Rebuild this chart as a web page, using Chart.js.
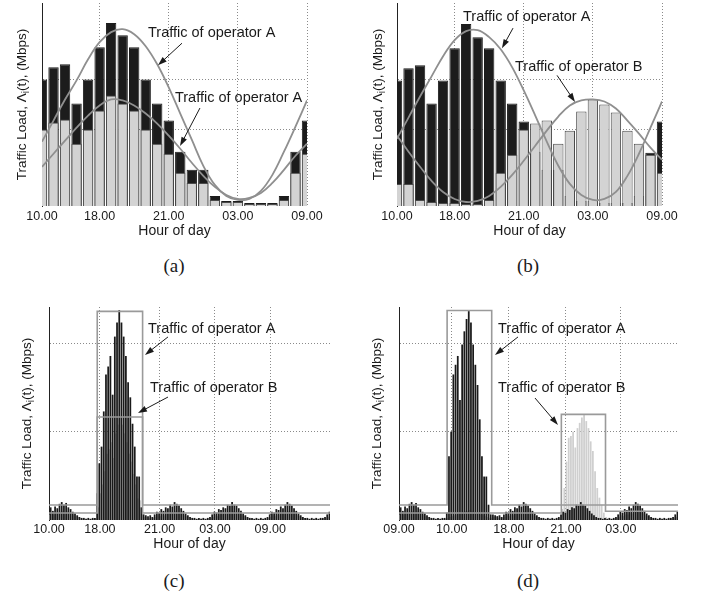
<!DOCTYPE html>
<html>
<head>
<meta charset="utf-8">
<script src="https://cdn.jsdelivr.net/npm/chart.js@4.4.1/dist/chart.umd.min.js"></script>
<style>
  html, body { margin: 0; padding: 0; background: #fff; }
  #fig { position: relative; width: 701px; height: 600px; }
  canvas { position: absolute; }
  .cap {
    position: absolute; width: 60px; text-align: center;
    font: 19px "Liberation Serif", "Times New Roman", serif;
    line-height: 22px; color: #1a1a1a;
  }
</style>
</head>
<body>
<div id="fig">
  <canvas id="pa" width="340" height="250" style="left:0;top:0"></canvas>
  <canvas id="pb" width="340" height="250" style="left:350px;top:0"></canvas>
  <canvas id="pc" width="340" height="260" style="left:0;top:300px"></canvas>
  <canvas id="pd" width="340" height="260" style="left:350px;top:300px"></canvas>
  <div class="cap" style="left:144px;top:255px">(a)</div>
  <div class="cap" style="left:498px;top:255px">(b)</div>
  <div class="cap" style="left:144px;top:570px">(c)</div>
  <div class="cap" style="left:498px;top:570px">(d)</div>
</div>
<script>
// hourly load, panels (a) and (b): 24 slots starting at 10.00
const aLoadA = [126, 138, 141, 102, 126, 158, 182, 170, 158, 126, 102, 85, 54, 36, 36, 10, 5, 5, 3, 3, 3, 10, 54, 85];
const aLoadB = [76, 83, 86, 62, 76, 95, 110, 102, 95, 76, 62, 52, 33, 23, 23, 6, 4, 4, 2, 2, 2, 6, 33, 52];
const aCurveHi = [64, 85, 106, 125, 146, 163, 173, 176, 171, 159, 141, 118, 92, 66, 40, 21, 10, 6, 7, 15, 31, 54, 79, 105];
const aCurveLo = [39, 52, 65, 78, 90, 100, 106, 105, 100, 92, 82, 70, 57, 43, 30, 19, 11, 7, 8, 13, 23, 36, 50, 62];

const bLoadA = [125, 137, 140, 102, 125, 157, 181, 168, 157, 125, 102, 84, 54, 36, 36, 10, 5, 5, 3, 3, 3, 10, 53, 84];
const bLoadB = [22, 22, 6, 4, 3, 3, 2, 2, 6, 33, 51, 76, 82, 85, 62, 75, 94, 106, 101, 93, 75, 62, 51, 33];
const bCurveA = [67, 88, 109, 129, 149, 165, 174, 175, 168, 156, 138, 115, 90, 64, 40, 22, 11, 6, 7, 14, 30, 52, 78, 104];
const bCurveB = [70, 54, 39, 25, 14, 7, 4, 5, 10, 19, 31, 45, 60, 75, 89, 100, 105, 106, 104, 97, 85, 72, 58, 46];

const hourTicksAB = [0, 5, 11, 17, 23];
const hourLabelsAB = ['10.00', '18.00', '21.00', '03.00', '09.00'];
const loadGridAB = [76, 126];

// fine-grained load, panels (c) and (d): 128 slots
const cLoadA = [
  12, 14, 10, 15, 13, 18, 20, 17, 19, 14, 12, 9, 7, 5, 3, 2, 2, 1, 2, 1, 2, 2,
  30, 64, 83, 123, 165, 174, 186, 142, 208, 224, 238, 224, 208, 186, 156, 139, 109, 83, 49, 49, 14,
  6, 5, 4, 5, 3, 6, 9, 8, 12, 10, 14, 13, 17, 15, 20, 18, 16, 13, 10, 7, 5, 3, 2, 2, 1, 2, 1, 2, 1, 2, 3,
  6, 9, 8, 12, 11, 14, 13, 17, 16, 20, 17, 16, 13, 10, 7, 5, 3, 2, 2, 1, 2, 1, 2, 1, 2, 3,
  6, 9, 8, 12, 11, 15, 13, 17, 20, 18, 16, 13, 10, 7, 5, 3, 2, 2, 1, 2, 1, 2, 1, 2, 2, 3, 6, 9
];
const cLoadB = [
  6, 7, 6, 8, 7, 9, 10, 9, 10, 8, 7, 5, 4, 3, 2, 1, 1, 1, 1, 1, 1, 1,
  14, 30, 40, 55, 75, 80, 88, 70, 98, 108, 116, 108, 98, 88, 75, 66, 52, 40, 24, 22, 6,
  3, 3, 2, 3, 2, 3, 5, 4, 6, 5, 7, 7, 9, 8, 10, 9, 8, 7, 5, 4, 3, 2, 1, 1, 1, 1, 1, 1, 1, 1, 2,
  3, 5, 4, 6, 6, 7, 7, 9, 8, 10, 9, 8, 7, 5, 4, 3, 2, 1, 1, 1, 1, 1, 1, 1, 1, 2,
  3, 5, 4, 6, 6, 8, 7, 9, 10, 9, 8, 7, 5, 4, 3, 2, 1, 1, 1, 1, 1, 1, 1, 1, 1, 2, 3, 5
];
const dLoadA = [
  12, 14, 10, 15, 13, 18, 20, 17, 19, 14, 12, 9, 7, 5, 3, 2, 2, 1, 2, 1, 2, 2,
  8, 72, 100, 165, 176, 186, 136, 199, 214, 228, 237, 224, 199, 176, 153, 114, 72, 49, 49, 17, 6,
  6, 5, 4, 5, 3, 6, 9, 8, 12, 10, 14, 13, 17, 15, 20, 18, 16, 13, 10, 7, 5, 3, 2, 2, 1, 2, 1, 2, 1, 2, 3,
  6, 9, 8, 12, 11, 14, 13, 17, 16, 20, 17, 16, 13, 10, 7, 5, 3, 2, 2, 1, 2, 1, 2, 1, 2, 3,
  6, 9, 8, 12, 11, 15, 13, 17, 20, 18, 16, 13, 10, 7, 5, 3, 2, 2, 1, 2, 1, 2, 1, 2, 2, 3, 6, 9
];
const dLoadB = [
  6, 7, 6, 8, 7, 9, 10, 9, 10, 8, 7, 5, 4, 3, 2, 1, 1, 1, 1, 1, 1, 1,
  2, 3, 4, 5, 6, 7, 8, 9, 10, 10, 11, 10, 9, 8, 7, 6, 5, 4, 3, 2, 2,
  3, 3, 2, 3, 2, 3, 5, 4, 6, 5, 7, 7, 9, 8, 10, 9, 8, 7, 5, 4, 3, 2, 1, 1, 1, 1, 1, 1, 1, 1, 2,
  12, 36, 66, 93, 95, 100, 82, 104, 110, 116, 119, 112, 104, 89, 78, 55, 36, 25, 17, 8, 3, 1, 1, 1, 1, 2,
  3, 5, 4, 6, 6, 8, 7, 9, 10, 9, 8, 7, 5, 4, 3, 2, 1, 1, 1, 1, 1, 1, 1, 1, 1, 2, 3, 5
];

// allocation envelopes (slot, load) corners
const cEnvAx = [0, 21.8, 21.8, 42.3, 42.3, 127];
const cEnvAy = [17, 17, 237, 237, 17, 17];
const cEnvBx = [0, 21.8, 21.8, 42.3, 42.3, 127];
const cEnvBy = [8, 8, 117, 117, 8, 8];
const dEnvAx = [0, 21.9, 21.9, 42.2, 42.2, 127];
const dEnvAy = [17, 17, 238, 238, 17, 17];
const dEnvBx = [0, 73.9, 73.9, 94, 94, 127];
const dEnvBy = [8, 8, 120, 120, 10, 10];

const cTicks = [0, 23, 50, 75, 100];
const cLabels = ['10.00', '18.00', '21.00', '03.00', '09.00'];
const dTicks = [0, 24, 50, 76, 101];
const dLabels = ['09.00', '10.00', '18.00', '21.00', '03.00'];
const loadGridCD = [100, 200];

const ink = '#1a1a1a';
const sans = '"Liberation Sans", Arial, Helvetica, sans-serif';
const curveCol = '#8f8f8f';

const pts = arr => arr.map((v, i) => ({ x: i, y: v }));
const corners = (xs, ys) => xs.map((x, i) => ({ x: x, y: ys[i] }));

function drawArrow(ctx, x0, y0, x1, y1) {
  const a = Math.atan2(y1 - y0, x1 - x0), L = 9, W = 3;
  ctx.beginPath();
  ctx.moveTo(x0, y0);
  ctx.lineTo(x1 - 6 * Math.cos(a), y1 - 6 * Math.sin(a));
  ctx.stroke();
  ctx.beginPath();
  ctx.moveTo(x1, y1);
  ctx.lineTo(x1 - L * Math.cos(a) + W * Math.sin(a), y1 - L * Math.sin(a) - W * Math.cos(a));
  ctx.lineTo(x1 - L * Math.cos(a) - W * Math.sin(a), y1 - L * Math.sin(a) + W * Math.cos(a));
  ctx.closePath();
  ctx.fill();
}

// vertical axis title with a real subscript on Lambda
function drawLoadTitle(ctx, cx, cy) {
  const big = '13.5px ' + sans, small = '10px ' + sans;
  const parts = [['Traffic Load, \u039B', big, 0], ['i', small, 4], ['(t), (Mbps)', big, 0]];
  let total = 0;
  parts.forEach(p => { ctx.font = p[1]; total += ctx.measureText(p[0]).width; });
  ctx.save();
  ctx.translate(cx, cy);
  ctx.rotate(-Math.PI / 2);
  ctx.fillStyle = ink;
  ctx.textBaseline = 'middle';
  let pos = -total / 2;
  parts.forEach(p => {
    ctx.font = p[1];
    ctx.fillText(p[0], pos, p[2]);
    pos += ctx.measureText(p[0]).width;
  });
  ctx.restore();
}

// labels with arrows, placed in data units
function notesPlugin(notes, titleX) {
  return {
    id: 'notes',
    afterDatasetsDraw(chart) {
      const { ctx, chartArea, scales: { x, y } } = chart;
      drawLoadTitle(ctx, titleX, (chartArea.top + chartArea.bottom) / 2);
      ctx.save();
      ctx.font = '14.5px ' + sans;
      ctx.fillStyle = ink;
      ctx.strokeStyle = ink;
      ctx.lineWidth = 1;
      ctx.textBaseline = 'middle';
      notes.forEach(n => {
        ctx.fillText(n.text, x.getPixelForValue(n.at[0]), y.getPixelForValue(n.at[1]));
        drawArrow(ctx,
          x.getPixelForValue(n.from[0]), y.getPixelForValue(n.from[1]),
          x.getPixelForValue(n.to[0]), y.getPixelForValue(n.to[1]));
      });
      ctx.restore();
    }
  };
}

function panel(id, cfg) {
  return new Chart(document.getElementById(id), {
    type: 'bar',
    data: { datasets: cfg.datasets },
    plugins: [notesPlugin(cfg.notes, cfg.titleX)],
    options: {
      responsive: false,
      animation: false,
      events: [],
      layout: { padding: cfg.pad },
      plugins: { legend: { display: false }, tooltip: { enabled: false } },
      scales: {
        x: {
          type: 'linear', min: 0, max: cfg.xMax, offset: false,
          afterBuildTicks: s => { s.ticks = cfg.xTicks.map(v => ({ value: v })); },
          afterFit: s => { s.height = cfg.xH; },
          ticks: {
            autoSkip: false, maxRotation: 0, padding: cfg.tickPad, color: ink,
            font: { family: sans, size: 12.5 },
            callback: (v, i) => cfg.xLabels[i]
          },
          grid: { offset: false, drawTicks: false, color: '#8a8a8a' },
          border: { display: false, dash: [1, 2] },
          title: {
            display: true, text: 'Hour of day', color: ink,
            font: { family: sans, size: 14 }, padding: { top: 0, bottom: cfg.xTitlePad }
          }
        },
        y: {
          min: 0, max: cfg.yMax,
          afterBuildTicks: s => { s.ticks = cfg.yGrid.map(v => ({ value: v })); },
          afterFit: s => { s.width = cfg.yW; },
          ticks: { display: false },
          grid: { drawTicks: false, color: '#8a8a8a' },
          border: { display: true, color: '#222', width: 1, dash: [1, 2] },
          title: { display: false }
        }
      }
    }
  });
}

function hourlySets(loadA, loadB, c1, c2) {
  return [
    { type: 'line', data: pts(c1), borderColor: curveCol, borderWidth: 1.8, pointRadius: 0, tension: 0.4, order: 0 },
    { type: 'line', data: pts(c2), borderColor: curveCol, borderWidth: 1.8, pointRadius: 0, tension: 0.4, order: 0 },
    { data: pts(loadB), backgroundColor: '#d3d3d3', borderColor: '#4a4a4a', borderWidth: 1,
      grouped: false, barPercentage: 0.9, categoryPercentage: 1, clip: 0, order: 1 },
    { data: pts(loadA), backgroundColor: '#1c1c1c', borderColor: '#1c1c1c', borderWidth: 1,
      grouped: false, barPercentage: 0.9, categoryPercentage: 1, clip: 0, order: 2 }
  ];
}

function slotSets(loadA, loadB, envA, envB) {
  return [
    { type: 'line', data: envA, borderColor: '#9a9a9a', borderWidth: 1.6, pointRadius: 0, order: 0 },
    { type: 'line', data: envB, borderColor: '#9a9a9a', borderWidth: 1.6, pointRadius: 0, order: 0 },
    { data: pts(loadA), backgroundColor: '#1a1a1a', borderWidth: 0,
      barPercentage: 1, categoryPercentage: 1, clip: 0, order: 1 },
    { data: pts(loadB), backgroundColor: '#cfcfcf', borderWidth: 0,
      barPercentage: 1, categoryPercentage: 1, clip: 0, order: 1 }
  ];
}

panel('pa', {
  datasets: hourlySets(aLoadA, aLoadB, aCurveHi, aCurveLo),
  pad: { left: 0, right: 33, top: 3, bottom: 0 },
  xMax: 23, xTicks: hourTicksAB, xLabels: hourLabelsAB,
  yMax: 202, yGrid: loadGridAB,
  xH: 44, yW: 42, tickPad: 3.5, xTitlePad: 10.6, titleX: 22,
  notes: [
    { text: 'Traffic of operator A', at: [9.2, 172], from: [12.15, 162], to: [10.07, 140] },
    { text: 'Traffic of operator A', at: [11.54, 107.5], from: [13.71, 97.5], to: [11.98, 59.7] }
  ]
});

panel('pb', {
  datasets: hourlySets(bLoadA, bLoadB, bCurveA, bCurveB),
  pad: { left: 0, right: 28, top: 3, bottom: 0 },
  xMax: 23, xTicks: hourTicksAB, xLabels: hourLabelsAB,
  yMax: 202, yGrid: loadGridAB,
  xH: 44, yW: 47, tickPad: 3.5, xTitlePad: 10.6, titleX: 28,
  notes: [
    { text: 'Traffic of operator A', at: [5.73, 188], from: [10.07, 177], to: [9.11, 157] },
    { text: 'Traffic of operator B', at: [10.24, 138], from: [13.89, 130], to: [15.45, 103.5] }
  ]
});

panel('pc', {
  datasets: slotSets(cLoadA, cLoadB, corners(cEnvAx, cEnvAy), corners(cEnvBx, cEnvBy)),
  pad: { left: 0, right: 10, top: 7, bottom: 0 },
  xMax: 127, xTicks: cTicks, xLabels: cLabels,
  yMax: 242, yGrid: loadGridCD,
  xH: 40, yW: 49, tickPad: 2.5, xTitlePad: 7.6, titleX: 27,
  notes: [
    { text: 'Traffic of operator A', at: [44.74, 217], from: [53.78, 208], to: [43.39, 187.5] },
    { text: 'Traffic of operator B', at: [45.65, 150], from: [53.78, 139.7], to: [40.22, 121.6] }
  ]
});

panel('pd', {
  datasets: slotSets(dLoadA, dLoadB, corners(dEnvAx, dEnvAy), corners(dEnvBx, dEnvBy)),
  pad: { left: 0, right: 12, top: 7, bottom: 0 },
  xMax: 127, xTicks: dTicks, xLabels: dLabels,
  yMax: 242, yGrid: loadGridCD,
  xH: 40, yW: 49, tickPad: 2.5, xTitlePad: 7.6, titleX: 27,
  notes: [
    { text: 'Traffic of operator A', at: [45.06, 217], from: [54.17, 208], to: [43.7, 187.5] },
    { text: 'Traffic of operator B', at: [45.06, 150], from: [61.9, 138.6], to: [72.37, 107.9] }
  ]
});
</script>
</body>
</html>
